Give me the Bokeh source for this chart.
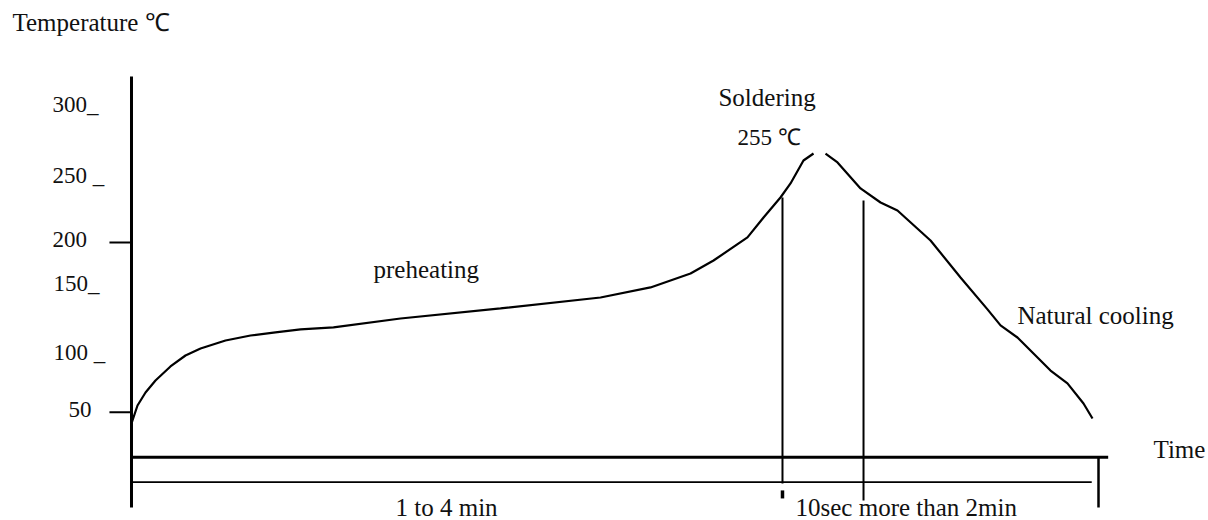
from bokeh.plotting import figure
from bokeh.models import Range1d, ColumnDataSource
from bokeh.embed import file_html
from bokeh.resources import INLINE
from bokeh.core.properties import value

# ---- data (time in arbitrary units 0..100, temperature in degC) ----
time_rise = [0, 0.62, 1.45, 2.48, 4.03, 5.58, 7.14, 9.72, 12.31, 14.89, 17.48, 20.89,
             27.82, 38.16, 48.50, 53.67, 57.81, 60.19, 63.70, 65.36, 67.11, 68.15,
             69.49, 70.53]
temp_rise = [40.0, 55.9, 67.4, 78.0, 90.4, 100.1, 106.3, 113.4, 117.8, 120.5, 123.2, 124.9,
             132.8, 141.7, 151.4, 160.3, 172.6, 184.1, 204.5, 222.1, 239.8, 252.2,
             272.5, 278.7]
time_fall = [71.77, 73.01, 75.39, 77.46, 79.21, 82.63, 85.73, 88.52, 89.87, 91.62,
             95.04, 96.79, 98.45, 99.38]
temp_fall = [278.7, 270.8, 247.8, 235.4, 228.3, 201.8, 169.1, 140.9, 126.7, 116.0,
             86.8, 75.4, 57.7, 44.4]

tick_values = [50, 100, 150, 200, 250, 300]
tick_labels = ["50", "100 _", "150_", "200", "250 _", "300_"]
marked_ticks = [50, 200]

soldering_start = 67.32
soldering_end = 75.70
time_end = 100.0

FONT = value("Liberation Serif")
INK = "#111111"
TXT_SHIFT = 7.3   # baseline correction (temperature units)

p = figure(width=1208, height=520,
           x_range=Range1d(-13.547, 111.375), y_range=Range1d(-45.8, 414.0),
           output_backend="svg", toolbar_location=None,
           x_axis_location=None, y_axis_location=None, min_border=0)
p.xgrid.visible = False
p.ygrid.visible = False
p.outline_line_color = None
p.background_fill_color = "white"
p.border_fill_color = "white"

# curve (with small gap at the peak)
p.line(time_rise + [float("nan")] + time_fall,
       temp_rise + [float("nan")] + temp_fall,
       line_color="black", line_width=2.2)

# axes / frame lines
p.segment(x0=[0], y0=[-34.3], x1=[0], y1=[346.8], line_color="black", line_width=3)          # y axis
p.segment(x0=[0], y0=[10.2], x1=[time_end + 1.0], y1=[10.2], line_color="black", line_width=3)  # time axis
p.segment(x0=[0], y0=[-11.9], x1=[time_end - 0.7], y1=[-11.9], line_color="black", line_width=1.8)
p.segment(x0=[time_end], y0=[10.2], x1=[time_end], y1=[-34.3], line_color="black", line_width=2.5)

# tick marks at 50 and 200
p.segment(x0=[-2.28] * len(marked_ticks), y0=marked_ticks,
          x1=[0] * len(marked_ticks), y1=marked_ticks,
          line_color="black", line_width=2)

# soldering window markers
p.segment(x0=[soldering_start], y0=[-13.0], x1=[soldering_start], y1=[239.8],
          line_color="black", line_width=2)
p.segment(x0=[soldering_start], y0=[-19.2], x1=[soldering_start], y1=[-26.3],
          line_color="black", line_width=3.5)
p.segment(x0=[soldering_end], y0=[-28.1], x1=[soldering_end], y1=[237.2],
          line_color="black", line_width=2)

# tick labels
label_x = [-6.51, -8.07, -8.07, -8.17, -8.17, -8.17]
label_y = [v + TXT_SHIFT for v in [45.3, 95.7, 156.7, 195.6, 252.2, 315.0]]
p.text(x=label_x, y=label_y, text=tick_labels, text_font=FONT, text_font_size="23px",
       text_color=INK, text_align="left", text_baseline="alphabetic")

# other annotations
notes = ColumnDataSource(dict(
    x=[-12.31, 60.70, 25.03, 91.62, 105.69, 27.30, 68.67],
    y=[v + TXT_SHIFT for v in [387.5, 321.2, 169.1, 128.4, 9.9, -41.3, -41.3]],
    text=["Temperature \u2103", "Soldering", "preheating", "Natural cooling", "Time",
          "1 to 4 min", "10sec more than 2min"],
))
p.text(x="x", y="y", text="text", source=notes, text_font=FONT, text_font_size="25px",
       text_color=INK, text_align="left", text_baseline="alphabetic")
p.text(x=[62.67], y=[285.8 + TXT_SHIFT], text=["255 \u2103"], text_font=FONT, text_font_size="23px",
       text_color=INK, text_align="left", text_baseline="alphabetic")

open("out.html", "w").write(file_html(p, INLINE))
